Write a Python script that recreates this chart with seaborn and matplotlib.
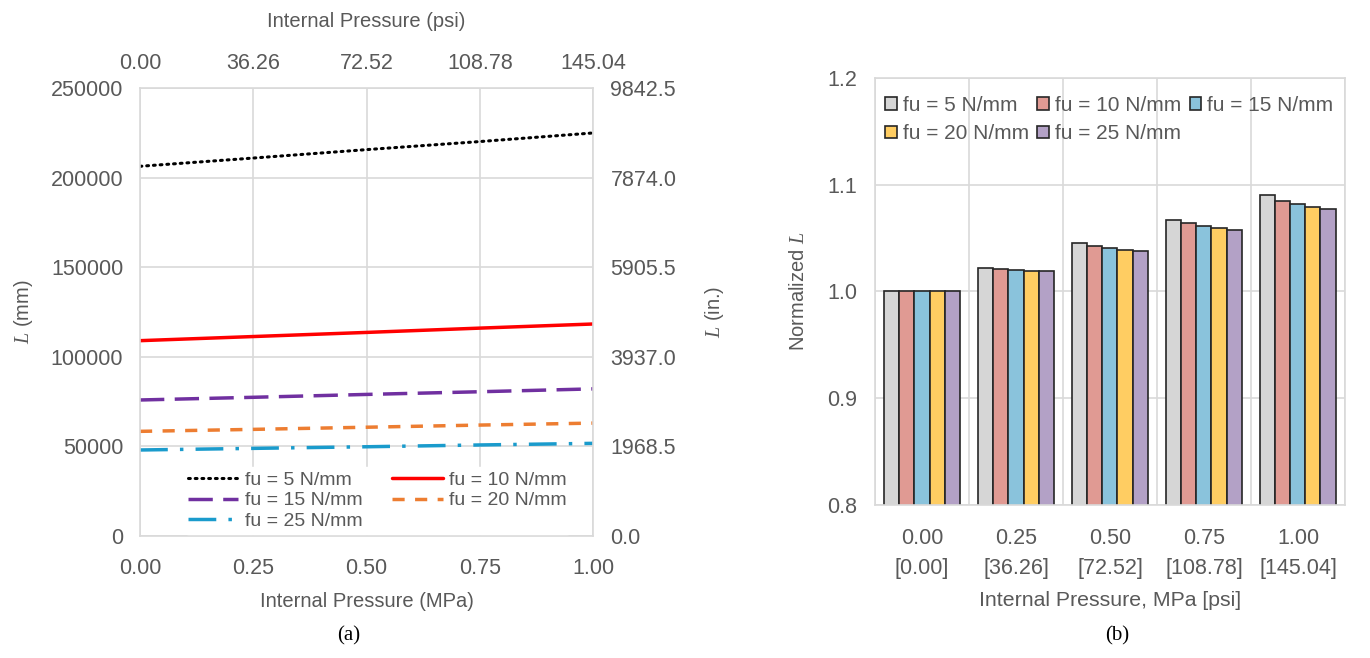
import numpy as np
import pandas as pd
import matplotlib
matplotlib.use("Agg")
import matplotlib.pyplot as plt
import seaborn as sns

# ---------------- data ----------------
pressure_mpa = [0.00, 0.25, 0.50, 0.75, 1.00]
psi_labels = ["0.00", "36.26", "72.52", "108.78", "145.04"]
series_names = ["fu = 5 N/mm", "fu = 10 N/mm", "fu = 15 N/mm", "fu = 20 N/mm", "fu = 25 N/mm"]

L_fu5 = [206300, 210900, 215600, 220100, 224900]
L_fu10 = [109000, 111300, 113600, 116000, 118300]
L_fu15 = [75900, 77400, 79000, 80500, 82100]
L_fu20 = [58400, 59500, 60700, 61900, 63000]
L_fu25 = [48000, 48900, 49800, 50800, 51700]

norm_fu5 = [1.000, 1.0224, 1.0451, 1.0671, 1.0900]
norm_fu10 = [1.000, 1.0214, 1.0426, 1.0640, 1.0850]
norm_fu15 = [1.000, 1.0202, 1.0404, 1.0610, 1.0820]
norm_fu20 = [1.000, 1.0196, 1.0391, 1.0594, 1.0790]
norm_fu25 = [1.000, 1.0190, 1.0382, 1.0575, 1.0770]

bar_cats = ["0.00\n[0.00]", "0.25\n[36.26]", "0.50\n[72.52]", "0.75\n[108.78]", "1.00\n[145.04]"]
mm_ticks = [0, 50000, 100000, 150000, 200000, 250000]
in_labels = ["0.0", "1968.5", "3937.0", "5905.5", "7874.0", "9842.5"]
norm_ticks = [0.8, 0.9, 1.0, 1.1, 1.2]

# ---------------- style ----------------
sns.set_theme(style="white")
plt.rcParams["font.family"] = ["Liberation Sans", "DejaVu Sans"]
plt.rcParams["mathtext.fontset"] = "custom"
plt.rcParams["mathtext.it"] = "Liberation Serif:italic"
plt.rcParams["mathtext.rm"] = "Liberation Sans"

TXT = "#595959"
GRID = "#D9D9D9"
TFS = 15.5   # tick labels
LFS = 14.5   # axis titles (a)
LFS_B = 15.3  # axis titles (b)

fig = plt.figure(figsize=(13.7, 6.58), dpi=100)

# ================= panel (a) =================
ax = fig.add_axes([0.1022, 0.1854, 0.3307, 0.6809])
line_styles = [
    dict(color="black", lw=2.2, dashes=(0.6, 1.6), dash_capstyle="round"),
    dict(color="#FF0000", lw=2.5),
    dict(color="#7030A0", lw=2.5, dashes=(7, 3)),
    dict(color="#ED7D31", lw=2.5, dashes=(3.5, 3)),
    dict(color="#1A9BCC", lw=2.5, dashes=(8, 3.5, 1, 3.5)),
]
all_L = [L_fu5, L_fu10, L_fu15, L_fu20, L_fu25]
for name, vals, st in zip(series_names, all_L, line_styles):
    df = pd.DataFrame({"p": pressure_mpa, "L": vals})
    st = dict(st)
    dashes = st.pop("dashes", None)
    capstyle = st.pop("dash_capstyle", None)
    sns.lineplot(data=df, x="p", y="L", ax=ax, label=name, **st)
    ln = ax.lines[-1]
    if dashes is not None:
        ln.set_dashes(dashes)
    if capstyle is not None:
        ln.set_dash_capstyle(capstyle)

ax.set_xlim(0, 1)
ax.set_ylim(0, 250000)
ax.set_xticks(pressure_mpa)
ax.set_xticklabels([f"{v:.2f}" for v in pressure_mpa])
ax.set_yticks(mm_ticks)
ax.set_yticklabels([str(v) for v in mm_ticks])
ax.grid(True, color=GRID, lw=1.2)
ax.set_axisbelow(True)
for s in ax.spines.values():
    s.set_color(GRID)
    s.set_linewidth(1.2)
ax.tick_params(length=0, labelsize=TFS, labelcolor=TXT)
ax.tick_params(axis="x", pad=15.5)
ax.tick_params(axis="y", pad=12)
ax.set_xlabel("Internal Pressure (MPa)", fontsize=LFS, color=TXT, labelpad=10)
ax.set_ylabel("$L$ (mm)", fontsize=LFS, color=TXT, labelpad=11)

h, l = ax.get_legend_handles_labels()
order = [0, 2, 4, 1, 3]
leg = ax.legend([h[i] for i in order], [l[i] for i in order],
                loc="lower center", bbox_to_anchor=(0.524, -0.017), ncol=2, frameon=True,
                fontsize=14, handlelength=2.6, columnspacing=1.5, labelspacing=0.15,
                handletextpad=0.35, borderpad=0.2)
leg.get_frame().set_edgecolor("white")
leg.get_frame().set_facecolor("white")
leg.get_frame().set_alpha(1)
for t in leg.get_texts():
    t.set_color(TXT)

# top axis (psi)
axt = ax.twiny()
axt.set_xlim(0, 145.04)
axt.set_xticks([float(v) for v in psi_labels])
axt.set_xticklabels(psi_labels)
axt.tick_params(length=0, labelsize=TFS, labelcolor=TXT, pad=10)
axt.set_xlabel("Internal Pressure (psi)", fontsize=LFS, color=TXT, labelpad=19)
for s in axt.spines.values():
    s.set_visible(False)

# right axis (in.)
axr = ax.twinx()
axr.set_ylim(0, 9842.5)
axr.set_yticks([float(v) for v in in_labels])
axr.set_yticklabels(in_labels)
axr.tick_params(length=0, labelsize=TFS, labelcolor=TXT, pad=12.5)
axr.set_ylabel("$L$ (in.)", fontsize=LFS, color=TXT, labelpad=19)
for s in axr.spines.values():
    s.set_visible(False)

# ================= panel (b) =================
bx = fig.add_axes([0.6387, 0.2325, 0.343, 0.649])
norm_all = [norm_fu5, norm_fu10, norm_fu15, norm_fu20, norm_fu25]
rows = []
for name, vals in zip(series_names, norm_all):
    for c, v in zip(bar_cats, vals):
        rows.append({"cat": c, "series": name, "val": v})
bdf = pd.DataFrame(rows)
bar_colors = ["#D6D6D6", "#E09A93", "#8AC3DC", "#FFCD62", "#B3A1C6"]
sns.barplot(data=bdf, x="cat", y="val", hue="series", order=bar_cats, hue_order=series_names,
            palette=bar_colors, edgecolor="#262626", linewidth=1.2, width=0.8, ax=bx,
            saturation=1, errorbar=None)
bx.set_ylim(0.8, 1.2)
bx.set_xlim(-0.5, 4.5)
bx.set_yticks(norm_ticks)
bx.set_yticklabels([f"{v:.1f}" for v in norm_ticks])
bx.set_xticks([x + 0.5 for x in range(-1, 5)], minor=True)
bx.grid(False)
bx.grid(True, which="major", axis="y", color=GRID, lw=1.2)
bx.grid(True, which="minor", axis="x", color=GRID, lw=1.2)
bx.set_axisbelow(True)
for s in bx.spines.values():
    s.set_color(GRID)
    s.set_linewidth(1.2)
bx.tick_params(which="both", length=0, labelsize=TFS, labelcolor=TXT, pad=16.5)
bx.tick_params(axis="y", pad=13)
for t in bx.get_xticklabels():
    t.set_linespacing(1.55)
bx.set_xlabel("Internal Pressure, MPa [psi]", fontsize=LFS_B, color=TXT, labelpad=9)
bx.set_ylabel("Normalized $L$", fontsize=LFS, color=TXT, labelpad=14)
h2, l2 = bx.get_legend_handles_labels()
order2 = [0, 3, 1, 4, 2]
lg2 = bx.legend([h2[i] for i in order2], [l2[i] for i in order2],
                loc="upper left", bbox_to_anchor=(-0.014, 0.997), ncol=3, frameon=False,
                fontsize=15, handlelength=0.55, handleheight=0.55, handletextpad=0.3,
                columnspacing=0.4, labelspacing=0.45, borderpad=0.3)
for t in lg2.get_texts():
    t.set_color(TXT)

# captions
fig.text(349 / 1370, 1 - 636 / 658, "(a)", ha="center", va="center", fontsize=15,
         family="Liberation Serif", color="black")
fig.text(1117 / 1370, 1 - 636 / 658, "(b)", ha="center", va="center", fontsize=15,
         family="Liberation Serif", color="black")

fig.savefig("out.png", dpi=100)
